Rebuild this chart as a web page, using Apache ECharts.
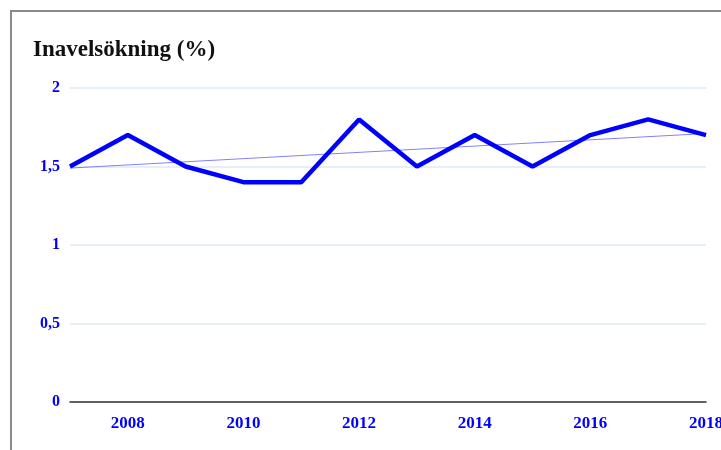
<!DOCTYPE html>
<html>
<head>
<meta charset="utf-8">
<script src="https://cdn.jsdelivr.net/npm/echarts@6/dist/echarts.min.js"></script>
<style>
  html, body { margin: 0; padding: 0; background: #fff; overflow: hidden; }
  #frame { position: absolute; left: 10px; top: 10px; width: 800px; height: 600px; border: 2px solid #8a8a8a; box-sizing: border-box; }
  #main { position: absolute; left: 0; top: 0; width: 721px; height: 450px; }
</style>
</head>
<body>
<div id="frame"></div>
<div id="main"></div>
<script>
// årtal och värden
const years = ['2007', '2008', '2009', '2010', '2011', '2012', '2013', '2014', '2015', '2016', '2017', '2018'];
const inavel = [1.5, 1.7, 1.5, 1.4, 1.4, 1.8, 1.5, 1.7, 1.5, 1.7, 1.8, 1.7];
// trendlinjens ändpunkter (2007 och 2018)
const trendEnds = [1.49, 1.71];
const yTicks = [0, 0.5, 1, 1.5, 2];

const trend = years.map((y, i) => i === 0 ? trendEnds[0] : (i === years.length - 1 ? trendEnds[1] : null));

const chart = echarts.init(document.getElementById('main'));
chart.setOption({
  animation: false,
  title: {
    text: 'Inavelsökning (%)',
    left: 28, top: 34,
    textStyle: { fontFamily: 'Liberation Serif', fontWeight: 'bold', fontSize: 23, color: '#111' }
  },
  grid: { left: 70, right: 15, top: 88, bottom: 48, outerBoundsMode: 'none' },
  xAxis: {
    type: 'category',
    data: years,
    boundaryGap: false,
    axisLine: { lineStyle: { color: '#333', width: 1.5 } },
    axisTick: { show: false },
    axisLabel: {
      interval: (i, v) => Number(v) % 2 === 0,
      color: '#0000ff', fontFamily: 'Liberation Serif', fontWeight: 'bold', fontSize: 17, margin: 13
    }
  },
  yAxis: {
    type: 'value',
    min: 0, max: 2, interval: 0.5,
    axisLine: { show: false },
    axisTick: { show: false },
    splitLine: { lineStyle: { color: '#dde9f7', width: 1.5 } },
    axisLabel: {
      color: '#0000ff', fontFamily: 'Liberation Serif', fontWeight: 'bold', fontSize: 16, margin: 10,
      formatter: v => yTicks.includes(v) ? String(v).replace('.', ',') : ''
    }
  },
  series: [
    {
      type: 'line',
      data: trend,
      connectNulls: true,
      showSymbol: false,
      lineStyle: { color: '#8080ff', width: 1 },
      z: 2
    },
    {
      type: 'line',
      data: inavel,
      showSymbol: false,
      lineStyle: { color: '#0000ff', width: 4.5 },
      z: 3
    }
  ]
});
</script>
</body>
</html>
